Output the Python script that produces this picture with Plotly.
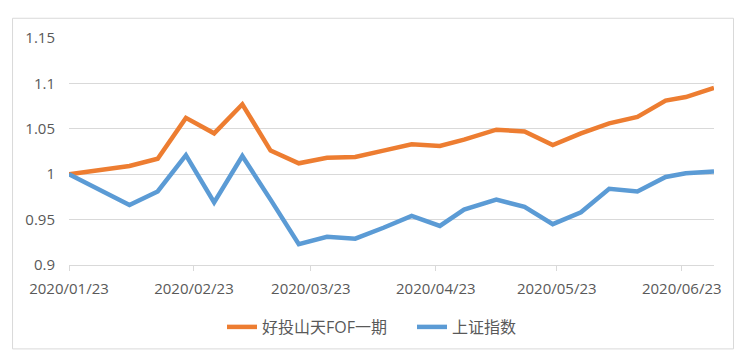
import plotly.graph_objects as go

dates = ["2020-01-23", "2020-02-07", "2020-02-14", "2020-02-21", "2020-02-28",
         "2020-03-06", "2020-03-13", "2020-03-20", "2020-03-27", "2020-04-03",
         "2020-04-10", "2020-04-17", "2020-04-24", "2020-04-30", "2020-05-08",
         "2020-05-15", "2020-05-22", "2020-05-29", "2020-06-05", "2020-06-12",
         "2020-06-19", "2020-06-24", "2020-07-01"]
fund = [1.000, 1.009, 1.017, 1.062, 1.045, 1.077, 1.026, 1.012, 1.018, 1.019,
        1.026, 1.033, 1.031, 1.038, 1.049, 1.047, 1.032, 1.045, 1.056, 1.063,
        1.081, 1.085, 1.095]
index = [1.000, 0.966, 0.981, 1.021, 0.969, 1.020, 0.972, 0.923, 0.931, 0.929,
         0.941, 0.954, 0.943, 0.961, 0.972, 0.964, 0.945, 0.958, 0.984, 0.981,
         0.997, 1.001, 1.003]
name_fund = "好投山天FOF一期"
name_index = "上证指数"
y_ticks = [0.9, 0.95, 1.0, 1.05, 1.1, 1.15]
y_ticktext = ["0.9", "0.95", "1", "1.05", "1.1", "1.15"]

FONT = "Open Sans, Noto Sans CJK SC, sans-serif"
GRAY = "#595959"
GRID = "#d9d9d9"

fig = go.Figure()
fig.add_trace(go.Scatter(x=dates, y=fund, name=name_fund, mode="lines",
                         line=dict(color="#ED7D31", width=4.5)))
fig.add_trace(go.Scatter(x=dates, y=index, name=name_index, mode="lines",
                         line=dict(color="#5B9BD5", width=4.5)))

L, R, T, B = 69, 714.5, 38, 268
W, H = 742, 363
pw, ph = R - L, B - T

def px2paper_x(x):
    return (x - L) / pw

def px2paper_y(y):
    return (B - y) / ph

fig.add_shape(type="rect", xref="paper", yref="paper",
              x0=px2paper_x(12.5), x1=px2paper_x(734),
              y0=px2paper_y(353), y1=px2paper_y(18),
              line=dict(color=GRID, width=1), fillcolor="rgba(0,0,0,0)", layer="below")

fig.update_layout(
    width=W, height=H,
    margin=dict(l=L, r=W - R, t=T, b=H - B),
    paper_bgcolor="white", plot_bgcolor="white",
    font=dict(family=FONT, size=15, color=GRAY),
    showlegend=True,
    legend=dict(orientation="h", xref="container", yref="container",
                x=222 / W, y=1 - 327 / H, xanchor="left", yanchor="middle",
                font=dict(family=FONT, size=16, color=GRAY),
                entrywidth=145, tracegroupgap=0),
    xaxis=dict(type="date", range=["2020-01-23", "2020-07-01"],
               tick0="2020-01-23", dtick="M1", tickformat="%Y/%m/%d",
               showgrid=False, showline=True, linecolor=GRID, linewidth=1,
               ticks="outside", ticklen=5, tickcolor=GRID,
               ticklabelstandoff=5, zeroline=False,
               tickfont=dict(family=FONT, size=15, color=GRAY)),
    yaxis=dict(range=[0.9, 1.15], tickvals=y_ticks, ticktext=y_ticktext,
               showgrid=True, gridcolor=GRID, gridwidth=1,
               showline=False, zeroline=False, ticks="",
               ticklabelstandoff=13,
               tickfont=dict(family=FONT, size=15, color=GRAY)),
)

fig.write_html("out.html", config={"displayModeBar": False},
               post_script="document.body.style.margin='0';")
